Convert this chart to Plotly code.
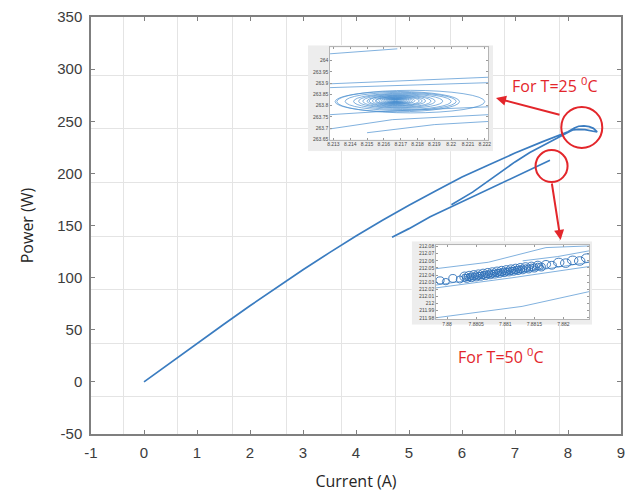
import plotly.graph_objects as go

# ---------------- main P-I measurements ----------------
current_25 = [0.0, 0.5, 1.0, 1.5, 2.0, 2.5, 3.0, 3.5, 4.0, 4.5, 5.0, 5.5, 6.0, 6.5, 7.0, 7.5,
              8.0, 8.12, 8.2, 8.3, 8.4, 8.48, 8.54, 8.55, 8.5, 8.42, 8.32, 8.2, 8.1, 8.04,
              7.79, 7.5, 7.28, 7.0, 6.72, 6.5, 6.2, 5.8]
power_25 = [0, 18.5, 37, 55, 73, 90.5, 107.5, 124, 140, 155, 169.5, 183, 196.5, 208, 219.5, 230,
            240, 243.5, 245.2, 245.6, 244.8, 243.2, 240.8, 239.8, 240.2, 241.2, 242, 242.3,
            241.8, 240.5, 233.5, 226, 220, 211, 201, 193, 182, 170]
current_50 = [4.68, 5.0, 5.4, 5.8, 6.2, 6.6, 7.0, 7.3, 7.66]
power_50 = [138.7, 147, 158.5, 168, 178, 187.5, 197, 204, 212.5]

x_ticks = [-1, 0, 1, 2, 3, 4, 5, 6, 7, 8, 9]
x_labels = ["-1", "0", "1", "2", "3", "4", "5", "6", "7", "8", "9"]
y_ticks = [-50, 0, 50, 100, 150, 200, 250, 300, 350]
y_labels = ["-50", "0", "50", "100", "150", "200", "250", "300", "350"]

# ---------------- zoom view, T = 25 C ----------------
z25_xticks = [8.213, 8.214, 8.215, 8.216, 8.217, 8.218, 8.219, 8.22, 8.221, 8.222]
z25_xlabels = ["8.213", "8.214", "8.215", "8.216", "8.217", "8.218", "8.219", "8.22", "8.221", "8.222"]
z25_yticks = [263.65, 263.7, 263.75, 263.8, 263.85, 263.9, 263.95, 264.0]
z25_ylabels = ["263.65", "263.7", "263.75", "263.8", "263.85", "263.9", "263.95", "264"]
# orbit rings around the operating point (centre, half-width, half-height)
z25_ring_cx = [8.2167, 8.2167, 8.2167, 8.2167, 8.2167, 8.2167, 8.2167, 8.2167, 8.2167, 8.2167,
               8.2167, 8.2167, 8.2167, 8.2168, 8.2168, 8.2168, 8.2169, 8.2169, 8.2170, 8.2171,
               8.2170, 8.2168, 8.2176]
z25_ring_cy = [263.822, 263.822, 263.822, 263.822, 263.822, 263.822, 263.822, 263.822, 263.822,
               263.822, 263.822, 263.822, 263.822, 263.821, 263.821, 263.821, 263.820, 263.820,
               263.820, 263.819, 263.819, 263.818, 263.818]
z25_ring_rx = [0.0001, 0.00016, 0.00022, 0.00028, 0.00034, 0.0004, 0.00048, 0.00056, 0.00065,
               0.00075, 0.00086, 0.001, 0.00115, 0.0013, 0.00148, 0.00168, 0.0019, 0.00215,
               0.0025, 0.0029, 0.0033, 0.0037, 0.0044]
z25_ring_ry = [0.0025, 0.0035, 0.0045, 0.0055, 0.0065, 0.0075, 0.0085, 0.0095, 0.0105, 0.012,
               0.0135, 0.015, 0.017, 0.019, 0.021, 0.0235, 0.026, 0.029, 0.032, 0.036,
               0.040, 0.045, 0.050]
z25_path_x = [[8.2128, 8.2150, 8.2168],
              [8.2128, 8.2175, 8.2222],
              [8.2128, 8.2175, 8.2222],
              [8.2128, 8.2160, 8.2222],
              [8.2128, 8.2165, 8.2222],
              [8.2150, 8.2190, 8.2222]]
z25_path_y = [[264.030, 264.042, 264.052],
              [263.897, 263.912, 263.926],
              [263.880, 263.890, 263.902],
              [263.760, 263.775, 263.795],
              [263.697, 263.738, 263.760],
              [263.680, 263.716, 263.730]]

# ---------------- zoom view, T = 50 C ----------------
z50_xticks = [7.88, 7.8805, 7.881, 7.8815, 7.882]
z50_xlabels = ["7.88", "7.8805", "7.881", "7.8815", "7.882"]
z50_yticks = [211.98, 211.99, 212.0, 212.01, 212.02, 212.03, 212.04, 212.05, 212.06, 212.07, 212.08]
z50_ylabels = ["211.98", "211.99", "212", "212.01", "212.02", "212.03", "212.04", "212.05",
               "212.06", "212.07", "212.08"]
z50_ring_cx = [7.87988, 7.87998, 7.88010, 7.88022, 7.88030, 7.88034, 7.88038, 7.88042, 7.88046,
               7.88050, 7.88054, 7.88058, 7.88062, 7.88066, 7.88070, 7.88074, 7.88078, 7.88082,
               7.88086, 7.88090, 7.88094, 7.88098, 7.88102, 7.88106, 7.88110, 7.88114, 7.88118,
               7.88122, 7.88126, 7.88130, 7.88135, 7.88140, 7.88145, 7.88150, 7.88156, 7.88162,
               7.88170, 7.88180, 7.88192, 7.88204, 7.88216, 7.88228, 7.88240]
z50_ring_cy = [212.0325, 212.0308, 212.0353, 212.0338, 212.0378, 212.0353, 212.0388, 212.0363,
               212.0398, 212.0373, 212.0408, 212.0383, 212.0418, 212.0393, 212.0428, 212.0403,
               212.0438, 212.0413, 212.0448, 212.0423, 212.0458, 212.0433, 212.0468, 212.0443,
               212.0478, 212.0453, 212.0488, 212.0463, 212.0498, 212.0473, 212.0509, 212.0485,
               212.0522, 212.0498, 212.0535, 212.0513, 212.0550, 212.0538, 212.0577, 212.0568,
               212.0607, 212.0598, 212.0638]
z50_ring_rx = [0.00007, 0.00006, 0.00007, 0.00006, 0.00008, 0.00007, 0.00008, 0.00007, 0.00008,
               0.00007, 0.00008, 0.00007, 0.00008, 0.00007, 0.00008, 0.00007, 0.00008, 0.00007,
               0.00008, 0.00007, 0.00008, 0.00007, 0.00008, 0.00007, 0.00008, 0.00007, 0.00008,
               0.00007, 0.00008, 0.00007, 0.00008, 0.00007, 0.00008, 0.00007, 0.00008, 0.00007,
               0.00008, 0.00008, 0.00009, 0.00009, 0.00009, 0.00009, 0.00009]
z50_ring_ry = [0.005, 0.0045, 0.0055, 0.005, 0.0065, 0.0055, 0.0065, 0.0055, 0.0065, 0.0055,
               0.0065, 0.0055, 0.0065, 0.0055, 0.0065, 0.0055, 0.0065, 0.0055, 0.0065, 0.0055,
               0.0065, 0.0055, 0.0065, 0.0055, 0.0065, 0.0055, 0.0065, 0.0055, 0.0065, 0.0055,
               0.0065, 0.0055, 0.006, 0.0055, 0.006, 0.0055,
               0.0055, 0.0055, 0.006, 0.006, 0.006, 0.006, 0.006]
# the densest stretch of the orbit carries a second, tighter loop around each centre
z50_core_first, z50_core_last = 4, 35
z50_core_scale = 0.55
z50_path_x = [[7.87981, 7.88071, 7.88170, 7.88244],
              [7.88130, 7.88190, 7.88244],
              [7.87981, 7.88129, 7.88244],
              [7.87981, 7.88110, 7.88244],
              [7.87981, 7.88110, 7.88244]]
z50_path_y = [[212.049, 212.058, 212.0786, 212.081],
              [212.060, 212.066, 212.074],
              [211.980, 211.996, 212.0167],
              [212.026, 212.041, 212.058],
              [212.022, 212.036, 212.052]]

# ---------------- styling ----------------
BLUE = "#3a7cc0"
ZBLUE = "#4a8fd0"
ZBLUE_DARK = "#2f70b8"
RED = "#e3262b"
AXIS_GREY = "#7f7f7f"
GRID = "#e4e4e4"
TICK_FONT = dict(family="Liberation Sans, Arial, sans-serif", size=15, color="#3c3c3c")
LABEL_FONT = dict(family="Open Sans, sans-serif", size=16, color="#262626")
SMALL_FONT = dict(family="Liberation Sans, Arial, sans-serif", size=5, color="#4a4a4a")

# plot-area geometry (fraction of plotting region)
INSET25 = dict(x=[0.451, 0.7496], y=[0.7062, 0.9269])
FRAME25 = dict(x=[0.4094, 0.7585], y=[0.6782, 0.9324])
INSET50 = dict(x=[0.6509, 0.9396], y=[0.2753, 0.4528])
FRAME50 = dict(x=[0.6051, 0.9453], y=[0.2621, 0.4624])

fig = go.Figure()

# main curves
fig.add_trace(go.Scatter(x=current_25, y=power_25, mode="lines",
                         line=dict(color=BLUE, width=1.7), xaxis="x", yaxis="y"))
fig.add_trace(go.Scatter(x=current_50, y=power_50, mode="lines",
                         line=dict(color=BLUE, width=1.7), xaxis="x", yaxis="y"))
# carrier for the background grid layer
fig.add_trace(go.Scatter(x=[], y=[], xaxis="x2", yaxis="y2"))

# grey frames behind the zoom views
for xa, ya in (("x3", "y3"), ("x5", "y5")):
    fig.add_trace(go.Scatter(x=[0, 1, 1, 0, 0], y=[0, 0, 1, 1, 0], mode="lines",
                             fill="toself", fillcolor="#ededed", line=dict(width=0),
                             xaxis=xa, yaxis=ya, hoverinfo="skip"))

# zoom view 25 C: crossing paths
for px, py in zip(z25_path_x, z25_path_y):
    fig.add_trace(go.Scatter(x=px, y=py, mode="lines", line=dict(color=ZBLUE, width=0.7),
                             xaxis="x4", yaxis="y4"))
# zoom view 50 C: crossing paths
for px, py in zip(z50_path_x, z50_path_y):
    fig.add_trace(go.Scatter(x=px, y=py, mode="lines", line=dict(color=ZBLUE, width=0.7),
                             xaxis="x6", yaxis="y6"))

shapes = []
for cx, cy, rx, ry in zip(z25_ring_cx, z25_ring_cy, z25_ring_rx, z25_ring_ry):
    shapes.append(dict(type="circle", xref="x4", yref="y4", x0=cx - rx, x1=cx + rx,
                       y0=cy - ry, y1=cy + ry, line=dict(color=ZBLUE, width=0.7)))
for k, (cx, cy, rx, ry) in enumerate(zip(z50_ring_cx, z50_ring_cy, z50_ring_rx, z50_ring_ry)):
    shapes.append(dict(type="circle", xref="x6", yref="y6", x0=cx - rx, x1=cx + rx,
                       y0=cy - ry, y1=cy + ry, line=dict(color=ZBLUE_DARK, width=0.9)))
    if z50_core_first <= k <= z50_core_last:
        irx, iry = rx * z50_core_scale, ry * z50_core_scale
        shapes.append(dict(type="circle", xref="x6", yref="y6", x0=cx - irx, x1=cx + irx,
                           y0=cy - iry, y1=cy + iry, line=dict(color=ZBLUE_DARK, width=0.9)))

# red highlight circles on the main plot
for (cx, cy, r) in ((8.26, 244.1, 20.5), (7.69, 207.0, 16.0)):
    shapes.append(dict(type="circle", xref="x", yref="y", xsizemode="pixel", ysizemode="pixel",
                       xanchor=cx, yanchor=cy, x0=-r, x1=r, y0=-r, y1=r,
                       line=dict(color=RED, width=2)))

annotations = [
    dict(x=6.642, y=272.2, xref="x", yref="y", ax=65, ay=17, axref="pixel", ayref="pixel",
         showarrow=True, arrowhead=2, arrowsize=1, arrowwidth=2, arrowcolor=RED, text=""),
    dict(x=7.861, y=136.1, xref="x", yref="y", ax=-9, ay=-58, axref="pixel", ayref="pixel",
         showarrow=True, arrowhead=2, arrowsize=1, arrowwidth=2, arrowcolor=RED, text=""),
    dict(x=7.753, y=284.4, xref="x", yref="y", showarrow=False,
         text="For T=25 <sup>0</sup>C", font=dict(family="Open Sans, sans-serif", size=16, color=RED)),
    dict(x=6.717, y=24.7, xref="x", yref="y", showarrow=False,
         text="For T=50 <sup>0</sup>C", font=dict(family="Open Sans, sans-serif", size=16, color=RED)),
]

main_axis = dict(showline=True, linecolor=AXIS_GREY, linewidth=1.5, mirror="ticks",
                 ticks="inside", ticklen=4, tickwidth=1, tickcolor=AXIS_GREY,
                 showgrid=False, zeroline=False, tickfont=TICK_FONT, ticklabelstandoff=4,
                 automargin=False)

small_axis = dict(showline=True, linecolor="#b5b5b5", linewidth=0.6, mirror="ticks",
                  ticks="inside", ticklen=2, tickwidth=0.5, tickcolor="#9a9a9a",
                  showgrid=False, zeroline=False, tickfont=SMALL_FONT, tickangle=0,
                  fixedrange=True, automargin=False)

hidden = dict(visible=False, range=[0, 1], fixedrange=True, automargin=False)

fig.update_layout(
    width=632, height=492,
    margin=dict(l=91, r=11, t=17, b=58),
    paper_bgcolor="white", plot_bgcolor="white",
    showlegend=False, hovermode=False,
    xaxis=dict(main_axis, range=[-1, 9], tickvals=x_ticks, ticktext=x_labels,
               title=dict(text="Current (A)", font=LABEL_FONT, standoff=20)),
    yaxis=dict(main_axis, range=[-50, 350], tickvals=y_ticks, ticktext=y_labels,
               title=dict(text="Power (W)", font=LABEL_FONT, standoff=20)),
    # background grid layer, drawn on its own scale
    xaxis2=dict(overlaying="x", anchor="y2", range=[-0.588, 9.130], tickvals=list(range(0, 9)),
                showgrid=True, gridcolor=GRID, gridwidth=1, showticklabels=False, ticks="",
                showline=False, zeroline=False, automargin=False),
    yaxis2=dict(overlaying="y", anchor="x2", range=[-0.6926, 7.089], tickvals=list(range(0, 7)),
                showgrid=True, gridcolor=GRID, gridwidth=1, showticklabels=False, ticks="",
                showline=False, zeroline=False, automargin=False),
    xaxis3=dict(hidden, domain=FRAME25["x"], anchor="y3"),
    yaxis3=dict(hidden, domain=FRAME25["y"], anchor="x3"),
    xaxis4=dict(small_axis, domain=INSET25["x"], anchor="y4", range=[8.2128, 8.22221],
                tickvals=z25_xticks, ticktext=z25_xlabels),
    yaxis4=dict(small_axis, domain=INSET25["y"], anchor="x4", range=[263.65, 264.058],
                tickvals=z25_yticks, ticktext=z25_ylabels),
    xaxis5=dict(hidden, domain=FRAME50["x"], anchor="y5"),
    yaxis5=dict(hidden, domain=FRAME50["y"], anchor="x5"),
    xaxis6=dict(small_axis, domain=INSET50["x"], anchor="y6", range=[7.87981, 7.88244],
                tickvals=z50_xticks, ticktext=z50_xlabels),
    yaxis6=dict(small_axis, domain=INSET50["y"], anchor="x6", range=[211.978, 212.082],
                tickvals=z50_yticks, ticktext=z50_ylabels),
    shapes=shapes,
    annotations=annotations,
)

fig.write_html("out.html")
